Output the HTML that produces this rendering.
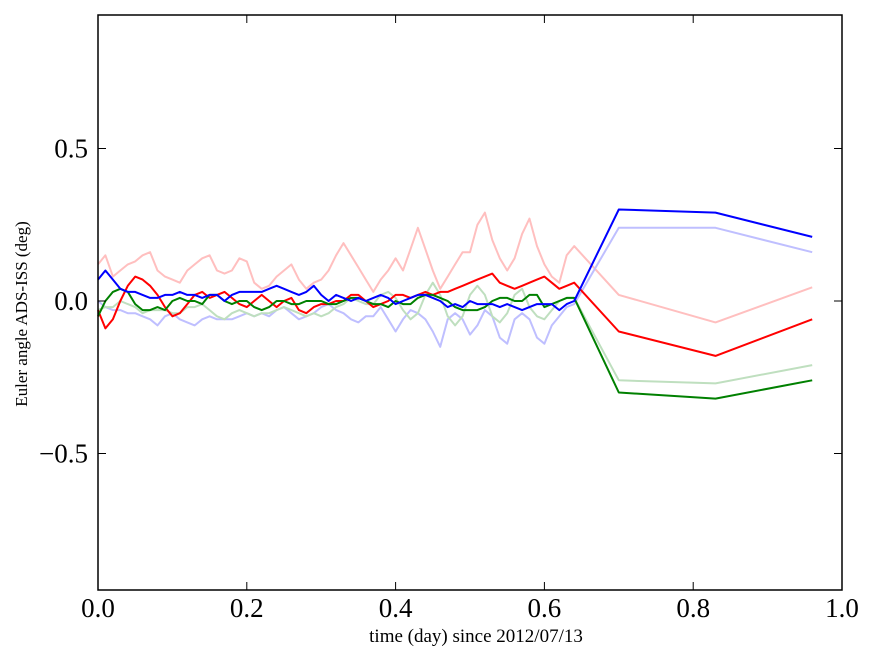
<!DOCTYPE html>
<html><head><meta charset="utf-8"><style>
body{margin:0;background:#fff}
svg{display:block}
text{font-family:"Liberation Serif",serif}
</style></head><body>
<svg id="chart" width="875" height="662" xmlns="http://www.w3.org/2000/svg"></svg>
<script>
const tailX=[0.70,0.83,0.96];
const xTicks=[0.0,0.2,0.4,0.6,0.8,1.0];
const xTickLabels=["0.0","0.2","0.4","0.6","0.8","1.0"];
const yTicks=[-0.5,0.0,0.5];
const yTickLabels=["\u22120.5","0.0","0.5"];
const pinkVals=[0.12,0.15,0.08,0.10,0.12,0.13,0.15,0.16,0.10,0.08,0.07,0.06,0.10,0.12,0.14,0.15,0.10,0.09,0.10,0.14,0.13,0.06,0.04,0.05,0.08,0.10,0.12,0.07,0.04,0.06,0.07,0.10,0.15,0.19,0.15,0.11,0.07,0.03,0.07,0.10,0.14,0.10,0.17,0.24,0.17,0.10,0.04,0.08,0.12,0.16,0.16,0.25,0.29,0.20,0.14,0.10,0.14,0.22,0.27,0.18,0.12,0.08,0.06,0.15,0.18,0.02,-0.07,0.045];
const redVals=[-0.03,-0.09,-0.06,0.0,0.05,0.08,0.07,0.05,0.02,-0.02,-0.05,-0.04,-0.01,0.02,0.03,0.01,0.02,0.03,0.01,-0.01,-0.02,0.0,0.02,0.0,-0.02,0.0,0.01,-0.03,-0.04,-0.02,-0.01,-0.01,0.0,0.0,0.02,0.02,0.0,-0.02,-0.01,0.0,0.02,0.02,0.01,0.02,0.03,0.02,0.03,0.03,0.04,0.05,0.06,0.07,0.08,0.09,0.06,0.05,0.04,0.05,0.06,0.07,0.08,0.06,0.04,0.05,0.06,-0.10,-0.18,-0.06];
const blueVals=[0.07,0.10,0.07,0.04,0.03,0.03,0.02,0.01,0.01,0.02,0.02,0.03,0.02,0.02,0.01,0.02,0.02,0.00,0.02,0.03,0.03,0.03,0.03,0.04,0.05,0.04,0.03,0.02,0.03,0.05,0.02,0.0,0.02,0.01,0.0,0.01,0.0,0.01,0.02,0.01,-0.01,0.0,0.01,0.02,0.02,0.01,0.0,-0.02,-0.01,-0.02,0.0,-0.01,-0.01,-0.01,-0.02,-0.01,-0.02,-0.03,-0.02,-0.01,-0.01,-0.01,-0.03,-0.01,0.0,0.30,0.29,0.21];
const greenVals=[-0.05,0.0,0.03,0.04,0.03,-0.01,-0.03,-0.03,-0.02,-0.03,0.0,0.01,0.0,0.0,-0.01,0.02,0.02,0.0,-0.01,0.0,0.0,-0.02,-0.03,-0.02,0.0,0.0,-0.01,-0.01,0.0,0.0,0.0,-0.01,-0.01,0.0,0.01,0.01,0.0,-0.01,-0.01,-0.02,0.0,-0.01,-0.01,0.01,0.02,0.02,0.01,0.0,-0.02,-0.03,-0.03,-0.03,-0.02,0.0,0.01,0.01,0.0,0.0,0.02,0.02,-0.02,-0.01,0.0,0.01,0.01,-0.30,-0.32,-0.26];
const lightBlueVals=[0.0,-0.02,-0.03,-0.03,-0.04,-0.04,-0.05,-0.06,-0.08,-0.05,-0.04,-0.06,-0.07,-0.08,-0.06,-0.05,-0.06,-0.06,-0.06,-0.05,-0.04,-0.05,-0.04,-0.05,-0.03,-0.02,-0.04,-0.06,-0.05,-0.04,-0.02,-0.01,-0.03,-0.04,-0.06,-0.07,-0.05,-0.05,-0.02,-0.06,-0.10,-0.06,-0.03,-0.04,-0.06,-0.10,-0.15,-0.06,-0.04,-0.06,-0.11,-0.08,-0.03,-0.05,-0.12,-0.14,-0.06,-0.04,-0.06,-0.12,-0.14,-0.08,-0.05,-0.02,-0.01,0.24,0.24,0.16];
const lightGreenVals=[-0.03,-0.02,-0.02,0.0,-0.01,-0.02,-0.04,-0.03,-0.03,-0.03,-0.04,-0.04,-0.02,-0.02,-0.01,-0.03,-0.05,-0.06,-0.04,-0.03,-0.04,-0.05,-0.04,-0.04,-0.03,-0.02,-0.03,-0.04,-0.05,-0.04,-0.05,-0.04,-0.02,-0.01,0.01,0.0,-0.01,-0.01,0.02,0.03,0.01,-0.03,-0.06,-0.04,0.02,0.06,0.02,-0.05,-0.08,-0.05,0.02,0.05,0.02,-0.05,-0.07,-0.04,0.02,0.04,-0.02,-0.05,-0.06,-0.03,0.0,0.01,0.01,-0.26,-0.27,-0.21];

const L=98,R=842,T=15,B=590;
const xS=v=>L+v*(R-L);
const yS=v=>301-v*305;
const svg=document.getElementById('chart');
const NS='http://www.w3.org/2000/svg';
function mk(tag,attrs){const e=document.createElementNS(NS,tag);for(const k in attrs)e.setAttribute(k,attrs[k]);svg.appendChild(e);return e;}
function xs(n){const a=[];for(let i=0;i<n-3;i++)a.push(i*0.01);return a.concat(tailX);}
const series=[
 [pinkVals,'#ffbfbf','series-red-light'],
 [lightBlueVals,'#bfbfff','series-blue-light'],
 [lightGreenVals,'#bfdfbf','series-green-light'],
 [redVals,'#ff0000','series-red'],
 [greenVals,'#008000','series-green'],
 [blueVals,'#0000ff','series-blue']];
series.forEach(([vals,col,name])=>{
 const X=xs(vals.length);
 const d=vals.map((v,i)=>(i?'L':'M')+xS(X[i]).toFixed(1)+','+yS(v).toFixed(1)).join('');
 const p=mk('path',{d:d,fill:'none',stroke:col,'stroke-width':2,'stroke-linejoin':'round'});
 
 
});
const fr=mk('rect',{x:L,y:T,width:R-L,height:B-T,fill:'none',stroke:'#000','stroke-width':1.5});


xTicks.forEach((v,i)=>{
 const x=xS(v);
 mk('line',{x1:x,y1:B,x2:x,y2:B-8,stroke:'#000'});
 mk('line',{x1:x,y1:T,x2:x,y2:T+8,stroke:'#000'});
 const t=mk('text',{x:x,y:B+27,'text-anchor':'middle','font-size':27});
 t.textContent=xTickLabels[i];
 
 
});
yTicks.forEach((v,i)=>{
 const y=yS(v);
 mk('line',{x1:L,y1:y,x2:L+8,y2:y,stroke:'#000'});
 mk('line',{x1:R,y1:y,x2:R-8,y2:y,stroke:'#000'});
 const t=mk('text',{x:L-10,y:y+9,'text-anchor':'end','font-size':27});
 t.textContent=yTickLabels[i];
 
 
});
const xt=mk('text',{x:476,y:642,'text-anchor':'middle','font-size':19});
xt.textContent='time (day) since 2012/07/13';


const yt=mk('text',{x:0,y:0,'text-anchor':'middle','font-size':17,transform:'translate(27,314) rotate(-90)'});
yt.textContent='Euler angle ADS-ISS (deg)';


</script>
</body></html>
